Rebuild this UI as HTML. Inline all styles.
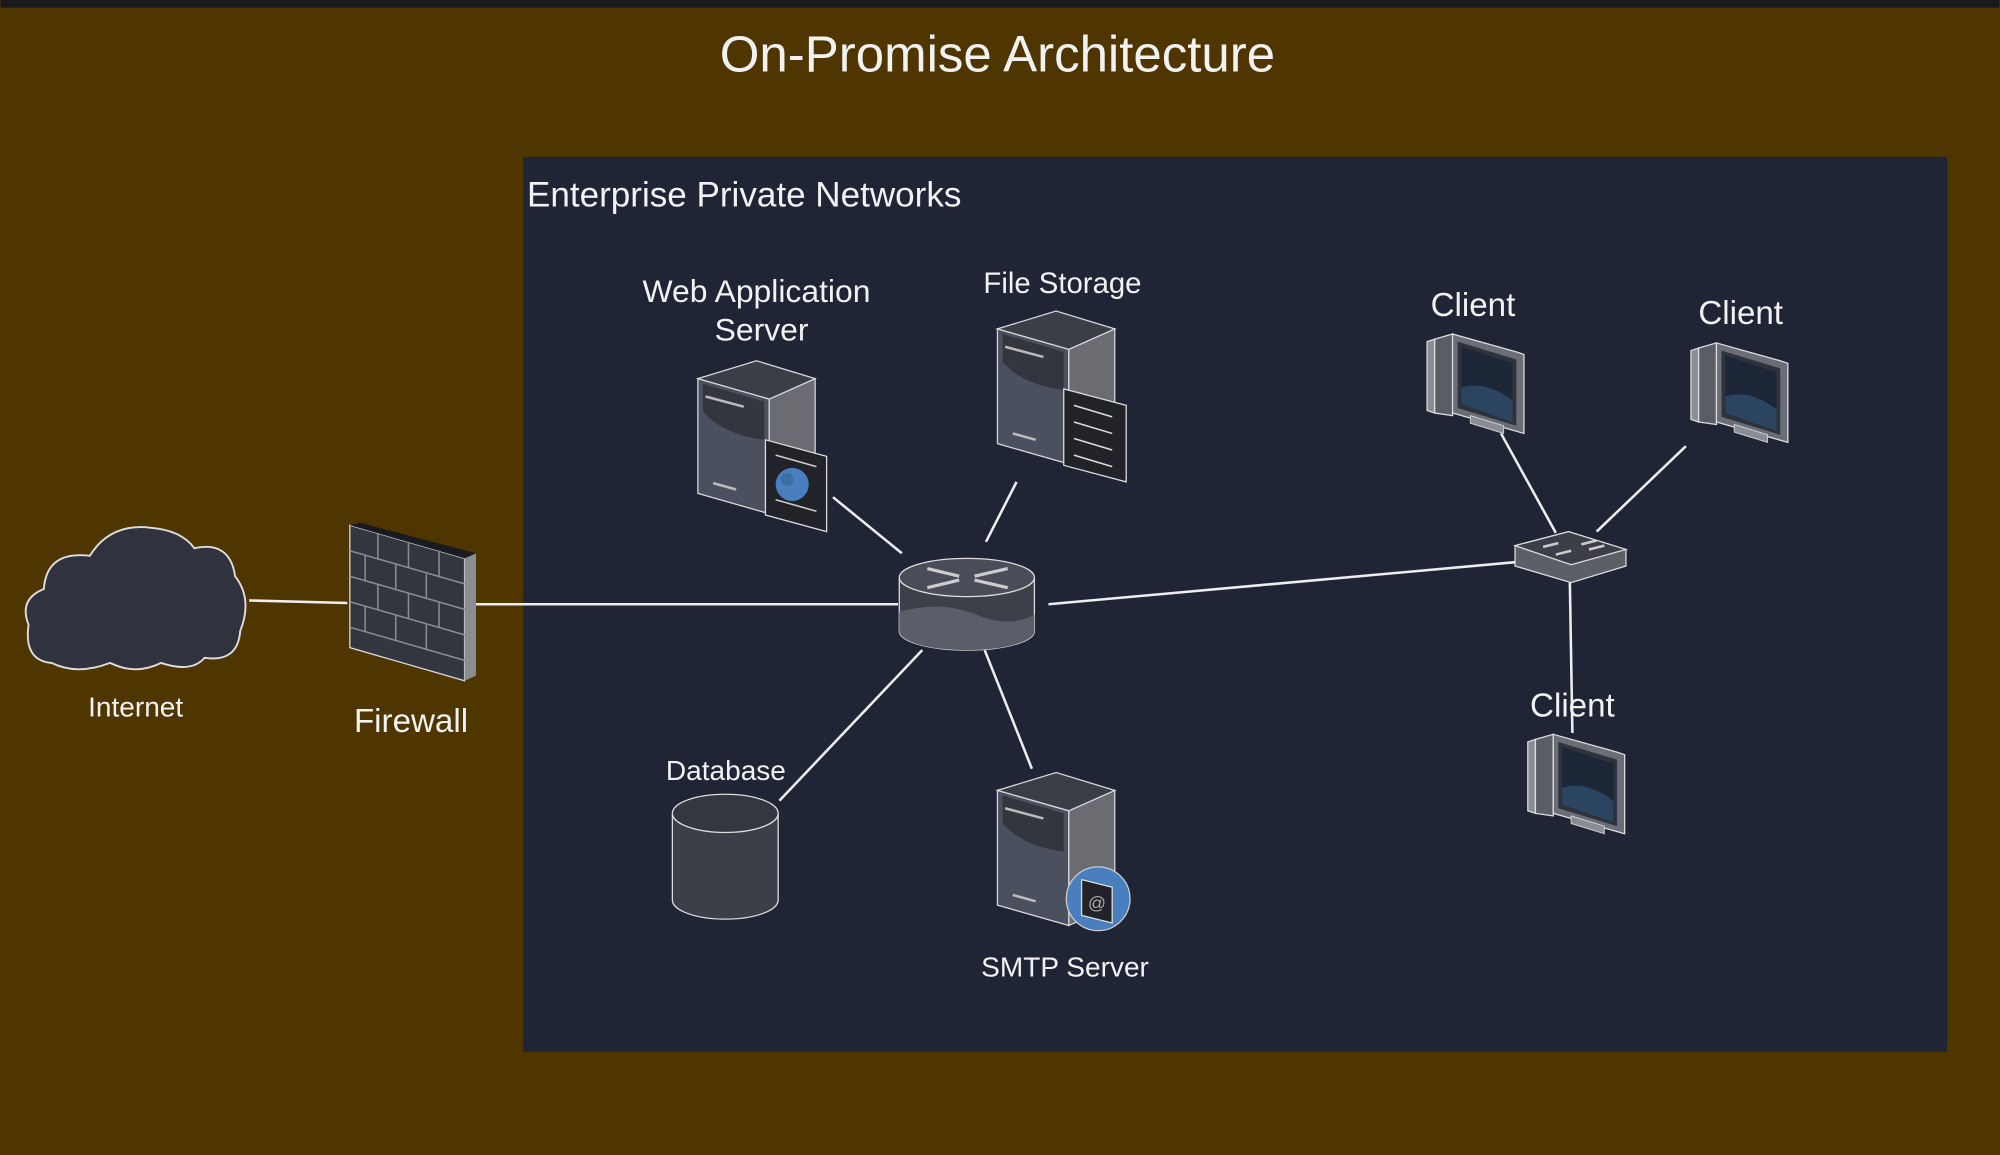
<!DOCTYPE html>
<html><head><meta charset="utf-8"><style>
html,body{margin:0;padding:0;background:#4f3600;}
svg{display:block;}
text{font-family:"Liberation Sans",sans-serif;fill:#f2f2f2;}
</style></head><body>
<svg width="2000" height="1155" viewBox="0 0 1568 906" xmlns="http://www.w3.org/2000/svg">
<defs>
<g id="server">
  <polygon points="0,14 56,30 56,120 0,104" fill="#4b505e" stroke="#d8d8dc" stroke-width="1"/>
  <polygon points="56,30 92,14 92,104 56,120" fill="#6a6c72" stroke="#d8d8dc" stroke-width="1"/>
  <polygon points="0,14 46,0 92,14 56,30" fill="#3b3e47" stroke="#d8d8dc" stroke-width="1"/>
  <path d="M4,18 L52,32 L52,62 Q20,58 4,40 Z" fill="#33363e"/>
  <line x1="6" y1="28" x2="36" y2="36" stroke="#bbb" stroke-width="2"/>
  <line x1="12" y1="96" x2="30" y2="101" stroke="#bbb" stroke-width="2"/>
</g>
<g id="client">
  <polygon points="0,8 6,6 6,64 0,62" fill="#8a8d94" stroke="#ddd" stroke-width="1"/>
  <polygon points="6,6 20,2 20,66 6,64" fill="#5a5d66" stroke="#ddd" stroke-width="1"/>
  <polygon points="20,2 70,16 76,18 76,80 20,64" fill="#6a6d75" stroke="#ddd" stroke-width="1"/>
  <polygon points="24,8 70,22 70,74 24,60" fill="#2e323b"/>
  <polygon points="27,12 67,25 67,71 27,57" fill="#1c2636"/>
  <path d="M27,44 Q46,38 67,54 L67,71 L27,57 Z" fill="#2b4560"/>
  <polygon points="34,66 60,74 60,80 34,72" fill="#8a8d94" stroke="#ccc" stroke-width="0.8"/>
</g>
</defs>
<rect x="0" y="0" width="1568" height="6" fill="#1a1a1c"/>
<rect x="410" y="123" width="1117" height="702" fill="#1f2535"/>
<text x="782" y="56" font-size="40" text-anchor="middle">On-Promise Architecture</text>
<text x="413" y="162" font-size="27.5">Enterprise Private Networks</text>

<g stroke="#eeeeee" stroke-width="2" fill="none">
<line x1="195" y1="471" x2="272" y2="473"/>
<line x1="373" y1="474" x2="704" y2="474"/>
<line x1="822" y1="474" x2="1188" y2="441"/>
<line x1="653" y1="390" x2="707" y2="434"/>
<line x1="797" y1="378" x2="773" y2="425"/>
<line x1="723" y1="510" x2="611" y2="628"/>
<line x1="772" y1="510" x2="809" y2="603"/>
<line x1="1177" y1="340" x2="1220" y2="418"/>
<line x1="1322" y1="350" x2="1252" y2="417"/>
<line x1="1231" y1="457" x2="1233" y2="575"/>
</g>

<!-- cloud -->
<path d="M40,520 Q18,518 22,490 Q14,470 34,462 Q36,432 70,436 Q86,410 118,414 Q142,416 152,430 Q180,424 184,452 Q198,470 188,495 Q186,520 160,516 Q150,528 126,520 Q106,530 86,520 Q60,530 40,520 Z" fill="#30333e" stroke="#ddd" stroke-width="1.5"/>
<text x="106" y="562" font-size="22" text-anchor="middle">Internet</text>

<!-- firewall -->
<polygon points="274,412 364,438 364,534 274,508" fill="#33363f" stroke="#ddd" stroke-width="1"/>
<polygon points="364,438 373,434 373,530 364,534" fill="#8b8d93"/>
<polygon points="274,412 282,410 373,434 364,438" fill="#1a1b20"/>
<g stroke="#8a8c93" stroke-width="1.2">
<line x1="274" y1="432" x2="364" y2="458"/><line x1="274" y1="452" x2="364" y2="478"/>
<line x1="274" y1="472" x2="364" y2="498"/><line x1="274" y1="492" x2="364" y2="518"/>
<line x1="296" y1="418" x2="296" y2="438"/><line x1="320" y1="425" x2="320" y2="445"/><line x1="344" y1="432" x2="344" y2="452"/>
<line x1="286" y1="436" x2="286" y2="456"/><line x1="310" y1="443" x2="310" y2="463"/><line x1="334" y1="450" x2="334" y2="470"/>
<line x1="296" y1="458" x2="296" y2="478"/><line x1="320" y1="465" x2="320" y2="485"/><line x1="344" y1="472" x2="344" y2="492"/>
<line x1="286" y1="476" x2="286" y2="496"/><line x1="310" y1="483" x2="310" y2="503"/><line x1="334" y1="490" x2="334" y2="510"/>
</g>
<text x="322" y="574" font-size="26" text-anchor="middle">Firewall</text>

<!-- web app server -->
<use href="#server" x="547" y="283"/>
<polygon points="600,345 648,358 648,417 600,404" fill="#222329" stroke="#ddd" stroke-width="1"/>
<g stroke="#ccc" stroke-width="1.2"><line x1="608" y1="357" x2="640" y2="366"/><line x1="608" y1="392" x2="640" y2="401"/></g>
<circle cx="621" cy="380" r="13" fill="#4a7fbf"/><circle cx="617" cy="376" r="5" fill="#3c6ea8"/>
<text x="593" y="237" font-size="25" text-anchor="middle">Web Application</text>
<text x="597" y="267" font-size="25" text-anchor="middle">Server</text>

<!-- file storage -->
<use href="#server" x="782" y="244"/>
<polygon points="834,305 883,318 883,378 834,365" fill="#222329" stroke="#ddd" stroke-width="1"/>
<g stroke="#ddd" stroke-width="1.2"><line x1="842" y1="318" x2="872" y2="327"/><line x1="842" y1="331" x2="872" y2="340"/><line x1="842" y1="344" x2="872" y2="353"/><line x1="842" y1="357" x2="872" y2="366"/></g>
<text x="833" y="230" font-size="23" text-anchor="middle">File Storage</text>

<!-- router -->
<path d="M705,453 L705,495 A53,15 0 0 0 811,495 L811,453" fill="#3d4049" stroke="#ddd" stroke-width="1"/>
<path d="M705,480 Q740,470 770,484 Q795,492 811,482 L811,495 A53,15 0 0 1 705,495 Z" fill="#5b5e68"/>
<ellipse cx="758" cy="453" rx="53" ry="15" fill="#4a4d57" stroke="#ddd" stroke-width="1"/>
<g stroke="#ccc" stroke-width="2.5"><line x1="727" y1="446" x2="752" y2="452"/><line x1="764" y1="452" x2="790" y2="446"/><line x1="727" y1="461" x2="752" y2="455"/><line x1="764" y1="455" x2="790" y2="461"/></g>

<!-- database -->
<path d="M527,638 L527,706 A41.5,15 0 0 0 610,706 L610,638" fill="#3c3f48" stroke="#ddd" stroke-width="1"/>
<ellipse cx="568.5" cy="638" rx="41.5" ry="15" fill="#343740" stroke="#ddd" stroke-width="1"/>
<text x="569" y="612" font-size="22" text-anchor="middle">Database</text>

<!-- smtp -->
<use href="#server" x="782" y="606"/>
<circle cx="861" cy="705" r="25" fill="#4a7fbf" stroke="#ccc" stroke-width="1"/>
<polygon points="848,690 872,696 872,724 848,718" fill="#222329" stroke="#ddd" stroke-width="1"/>
<text x="860" y="713" font-size="14" text-anchor="middle" style="fill:#aaa">@</text>
<text x="835" y="766" font-size="22" text-anchor="middle">SMTP Server</text>

<!-- switch -->
<polygon points="1188,428 1230,417 1275,431 1275,444 1232,457 1188,444" fill="#5c5f68" stroke="#ddd" stroke-width="1"/>
<polygon points="1188,428 1230,417 1275,431 1232,443" fill="#3c3f48" stroke="#ddd" stroke-width="1"/>
<g stroke="#ccc" stroke-width="2"><line x1="1210" y1="429" x2="1222" y2="426"/><line x1="1240" y1="427" x2="1252" y2="424"/><line x1="1220" y1="435" x2="1232" y2="432"/><line x1="1246" y1="431" x2="1258" y2="428"/></g>

<!-- clients -->
<use href="#client" x="1119" y="260"/>
<text x="1155" y="248" font-size="26" text-anchor="middle">Client</text>
<use href="#client" x="1326" y="267"/>
<text x="1365" y="254" font-size="26" text-anchor="middle">Client</text>
<use href="#client" x="1198" y="574"/>
<text x="1233" y="562" font-size="26" text-anchor="middle">Client</text>
</svg>
</body></html>
